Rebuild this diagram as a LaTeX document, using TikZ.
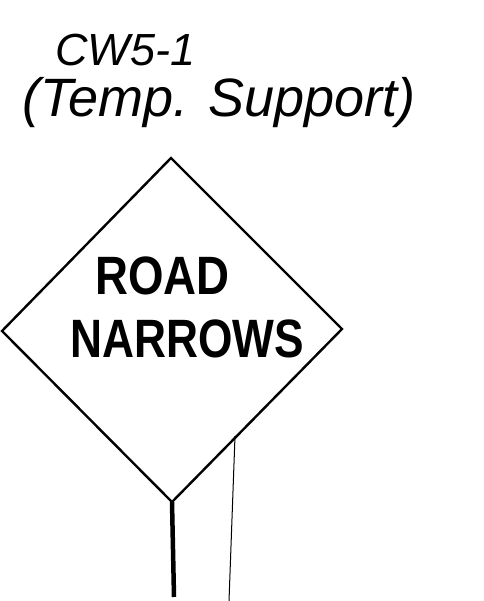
\documentclass[tikz,border=0pt]{standalone}
\usepackage{fontspec}
\setmainfont{Liberation Sans}
\newfontfamily\handfont{Liberation Sans}
\begin{document}
\begin{tikzpicture}[x=1pt,y=1pt,
  signline/.style={line width=2.4pt,line join=miter},
  polestyle/.style={line width=4.5pt},
  thinline/.style={line width=1pt},
  signtext/.style={anchor=base west,inner sep=0pt,font=\bfseries\fontsize{54}{54}\selectfont},
  handtext/.style={anchor=base west,inner sep=0pt}]
\useasboundingbox (0,0) rectangle (483,601);
% diamond corners
\coordinate (top) at (171,443);
\coordinate (left) at (2,270);
\coordinate (right) at (342,272);
\coordinate (bot) at (172,99);
\draw[signline] (top) -- (right) -- (bot) -- (left) -- cycle;
% pole
\coordinate (poleend) at (174,4);
\draw[polestyle] (bot) -- (poleend);
% thin line
\coordinate (ta) at (235,165);
\coordinate (tb) at (229,0);
\draw[thinline] (ta) -- (tb);
% sign text
\node[signtext] (road) at (95,306) {\scalebox{0.845}[1]{ROAD}};
\node[signtext] (narrows) at (70,243) {\scalebox{0.82}[1]{NARROWS}};
% handwriting
\node[handtext,font=\handfont\itshape\fontsize{45}{45}\selectfont] (code) at (55,535) {CW5-1};
\node[handtext,font=\handfont\itshape\fontsize{54}{54}\selectfont] (note) at (22,484) {(Temp. Support)};
\end{tikzpicture}
\end{document}
